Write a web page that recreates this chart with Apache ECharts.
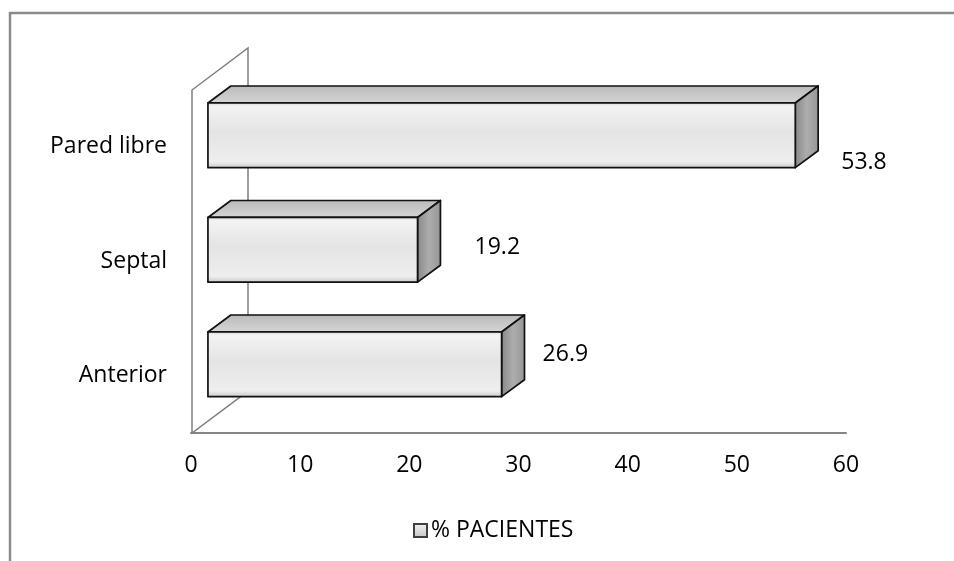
<!DOCTYPE html>
<html>
<head>
<meta charset="utf-8">
<script src="https://cdn.jsdelivr.net/npm/echarts@6/dist/echarts.min.js"></script>
<style>
  html, body { margin: 0; padding: 0; background: #ffffff; }
  #chart { width: 954px; height: 561px; }
</style>
</head>
<body>
<div id="chart"></div>
<script>
// Localización del daño (3D horizontal bars)
const categories = ['Anterior', 'Septal', 'Pared libre'];
const pacientes = [26.9, 19.2, 53.8];
const seriesName = '% PACIENTES';
const axisMin = 0;
const axisMax = 60;
const axisStep = 10;

const FONT = '"Open Sans", "Noto Sans", sans-serif';
const FONT_SIZE = 23;
// label placement around the right end of each box (3D perspective offsets)
const labelNudge = [[41, -9.5], [57, -2], [46, 27.5]];

const frontFill = new echarts.graphic.LinearGradient(0, 0, 0, 1, [
  { offset: 0, color: '#cfcfcf' },
  { offset: 0.06, color: '#f3f3f3' },
  { offset: 0.45, color: '#e4e4e4' },
  { offset: 0.9, color: '#eeeeee' },
  { offset: 1, color: '#c6c6c6' }
]);
const topFill = new echarts.graphic.LinearGradient(0, 0, 0, 1, [
  { offset: 0, color: '#b9b9b9' },
  { offset: 1, color: '#d6d6d6' }
]);
const sideFill = new echarts.graphic.LinearGradient(0, 0, 1, 0, [
  { offset: 0, color: '#878787' },
  { offset: 0.5, color: '#adadad' },
  { offset: 1, color: '#959595' }
]);

function renderBox(params, api) {
  const v = api.value(0);
  const c = api.value(1);
  const i = params.dataIndex;
  const p0 = api.coord([0, c]);
  const p1 = api.coord([v, c]);
  const band = api.size([0, 1])[1];
  const h = band * 0.565;
  const cy = p0[1] - band * 0.1;
  const shift = band * 0.148;
  const dx = band * 0.2;
  const dy = band * 0.148;
  const x0 = p0[0] + shift;
  const x1 = p1[0] + shift;
  const y0 = cy - h / 2;
  const y1 = cy + h / 2;
  const edge = { stroke: '#111111', lineWidth: 1.7, lineJoin: 'round' };
  return {
    type: 'group',
    children: [
      { type: 'polygon', shape: { points: [[x0, y0], [x0 + dx, y0 - dy], [x1 + dx, y0 - dy], [x1, y0]] },
        style: Object.assign({ fill: topFill }, edge) },
      { type: 'polygon', shape: { points: [[x1, y0], [x1 + dx, y0 - dy], [x1 + dx, y1 - dy], [x1, y1]] },
        style: Object.assign({ fill: sideFill }, edge) },
      { type: 'rect', shape: { x: x0, y: y0, width: x1 - x0, height: h },
        style: Object.assign({ fill: frontFill }, edge) },
      { type: 'text', x: x1 + labelNudge[i][0], y: cy + labelNudge[i][1],
        style: { text: v.toFixed(1), fill: '#000000', font: FONT_SIZE + 'px ' + FONT, align: 'left', verticalAlign: 'middle' } }
    ]
  };
}

function renderWall(params, api) {
  const cs = params.coordSys;
  const fx = cs.x + 1;
  const bottom = cs.y + cs.height;
  const top = cs.y + 0.5;
  const wx = 56, wy = 42;
  return {
    type: 'polygon',
    silent: true,
    shape: { points: [[fx, bottom], [fx, top], [fx + wx, top - wy], [fx + wx, bottom - wy]] },
    style: { fill: '#ffffff', stroke: '#7f7f7f', lineWidth: 1.5 }
  };
}

const chart = echarts.init(document.getElementById('chart'), null, { renderer: 'canvas' });
chart.setOption({
  animation: false,
  backgroundColor: '#ffffff',
  textStyle: { fontFamily: FONT },
  graphic: [
    { type: 'polyline', silent: true, z: 0,
      shape: { points: [[10, 562], [10, 13], [955, 13]] },
      style: { stroke: '#8a8a8a', lineWidth: 2.5, fill: null } }
  ],
  grid: { left: 191, right: 108, top: 89.5, bottom: 128, containLabel: false },
  xAxis: {
    type: 'value', min: axisMin, max: axisMax, interval: axisStep,
    axisLine: { show: true, lineStyle: { color: '#868686', width: 2 } },
    axisTick: { show: false },
    splitLine: { show: false },
    axisLabel: { margin: 21, color: '#000000', fontSize: FONT_SIZE, fontFamily: FONT }
  },
  yAxis: {
    type: 'category', data: categories,
    axisLine: { show: false }, axisTick: { show: false },
    splitLine: { show: false },
    axisLabel: { margin: 24, color: '#000000', fontSize: FONT_SIZE, fontFamily: FONT }
  },
  legend: {
    data: [seriesName],
    left: 408, top: 514,
    icon: 'rect', itemWidth: 13, itemHeight: 13, itemGap: 10,
    textStyle: { fontSize: FONT_SIZE, color: '#000000', fontFamily: FONT, padding: [0, 0, 0, -1] }
  },
  series: [
    { type: 'custom', name: 'wall', silent: true, z: 1,
      data: [[0, 0]], encode: { x: 0, y: 1 }, renderItem: renderWall },
    { type: 'custom', name: seriesName, z: 2,
      itemStyle: { color: new echarts.graphic.LinearGradient(0, 0, 0, 1, [
        { offset: 0, color: '#f4f4f4' }, { offset: 1, color: '#c4c4c4' }]),
        borderColor: '#404040', borderWidth: 1 },
      data: pacientes.map((v, i) => [v, i]),
      encode: { x: 0, y: 1 },
      renderItem: renderBox }
  ]
});
</script>
</body>
</html>
